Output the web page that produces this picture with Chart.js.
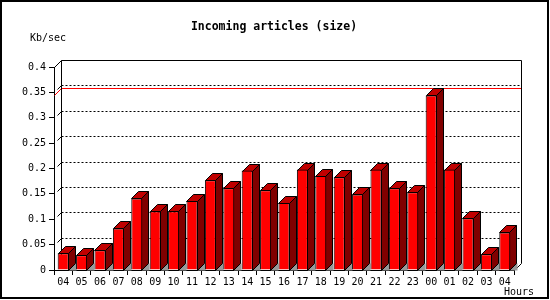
<!DOCTYPE html>
<html>
<head>
<meta charset="utf-8">
<script src="https://cdn.jsdelivr.net/npm/chart.js@4/dist/chart.umd.min.js"></script>
<style>
html,body{margin:0;padding:0;background:#fff;}
#c{display:block;}
</style>
</head>
<body>
<canvas id="c" width="550" height="300"></canvas>
<script>
const titleText = 'Incoming articles (size)';
const yAxisTitle = 'Kb/sec';
const xAxisTitle = 'Hours';
const hours = ['04','05','06','07','08','09','10','11','12','13','14','15','16','17','18','19','20','21','22','23','00','01','02','03','04'];
const sizeKbSec = [0.033,0.029,0.039,0.082,0.141,0.116,0.116,0.136,0.177,0.161,0.196,0.157,0.132,0.198,0.185,0.183,0.149,0.198,0.161,0.153,0.344,0.198,0.102,0.031,0.074];
const yTickLabels = ['0','0.05','0.1','0.15','0.2','0.25','0.3','0.35','0.4'];
const yGridValues = [0.05,0.1,0.15,0.2,0.25,0.3,0.35];

const DEPTH = 7;
const MONO = '"DejaVu Sans Mono", "Liberation Mono", monospace';

const threeD = {
  id: 'threeD',
  beforeDatasetsDraw(chart) {
    const ctx = chart.ctx;
    const a = chart.chartArea;
    const ys = chart.scales.y;
    const d = DEPTH;
    const L = Math.round(a.left) + 0.5, R = Math.round(a.right) + 0.5;
    const T = Math.round(a.top) + 0.5, B = Math.round(a.bottom) + 0.5;
    ctx.save();
    ctx.lineWidth = 1;
    // dotted gridlines on back wall
    ctx.strokeStyle = '#000';
    yGridValues.forEach(v => {
      const y = Math.round(ys.getPixelForValue(v)) - d + 0.5;
      ctx.setLineDash([2,2]);
      ctx.beginPath(); ctx.moveTo(L + d, y); ctx.lineTo(R + d, y); ctx.stroke();
      ctx.setLineDash([]);
      ctx.beginPath(); ctx.moveTo(L + 3, y + d - 3); ctx.lineTo(L + d, y); ctx.stroke();
    });
    // max line
    const mx = Math.max(...sizeKbSec);
    const ym = Math.round(ys.getPixelForValue(mx)) + 0.5;
    ctx.strokeStyle = '#ff0000';
    ctx.beginPath(); ctx.moveTo(L, ym); ctx.lineTo(L + d, ym - d); ctx.lineTo(R + d, ym - d); ctx.stroke();
    // back wall frame
    ctx.strokeStyle = '#000';
    ctx.beginPath();
    ctx.moveTo(L, T); ctx.lineTo(L + d, T - d); ctx.lineTo(R + d, T - d); ctx.lineTo(R + d, B - d); ctx.lineTo(R, B);
    ctx.moveTo(L + d, T - d); ctx.lineTo(L + d, B - d);
    ctx.stroke();
    // bar sides and tops
    const meta = chart.getDatasetMeta(0);
    meta.data.forEach(bar => {
      const w = bar.width;
      const xl = Math.round(bar.x - w / 2) + 0.5;
      const xr = Math.round(bar.x + w / 2) - 0.5;
      const yt = Math.round(bar.y) + 0.5;
      const yb = Math.round(bar.base) + 0.5;
      // floor shadow
      ctx.fillStyle = '#999999';
      ctx.beginPath(); ctx.moveTo(xr, yb); ctx.lineTo(xr + d, yb - d); ctx.lineTo(xr + d + 1, yb - d); ctx.lineTo(xr + d + 1, yb); ctx.closePath(); ctx.fill();
      // side
      ctx.fillStyle = '#800000';
      ctx.strokeStyle = '#000';
      ctx.beginPath(); ctx.moveTo(xr, yt); ctx.lineTo(xr + d, yt - d); ctx.lineTo(xr + d, yb - d); ctx.lineTo(xr, yb); ctx.closePath(); ctx.fill(); ctx.stroke();
      // top
      ctx.fillStyle = '#c00000';
      ctx.beginPath(); ctx.moveTo(xl, yt); ctx.lineTo(xl + d, yt - d); ctx.lineTo(xr + d, yt - d); ctx.lineTo(xr, yt); ctx.closePath(); ctx.fill(); ctx.stroke();
    });
    ctx.restore();
  },
  afterDraw(chart) {
    const ctx = chart.ctx;
    ctx.save();
    ctx.fillStyle = '#000';
    ctx.textBaseline = 'middle';
    ctx.textAlign = 'center';
    ctx.font = 'bold 11.5px ' + MONO;
    ctx.fillText(titleText, 274, 27);
    ctx.font = '10px ' + MONO;
    ctx.textAlign = 'left';
    ctx.fillText(yAxisTitle, 30, 38);
    ctx.fillText(xAxisTitle, 504, 292);
    ctx.strokeStyle = '#000';
    ctx.lineWidth = 2;
    ctx.strokeRect(1, 1, 547, 297);
    ctx.restore();
  }
};

new Chart(document.getElementById('c'), {
  type: 'bar',
  data: {
    labels: hours,
    datasets: [{
      data: sizeKbSec,
      backgroundColor: '#ff0000',
      borderColor: '#000000',
      borderWidth: 1,
      categoryPercentage: 1.0,
      barPercentage: 0.6
    }]
  },
  options: {
    responsive: false,
    devicePixelRatio: 1,
    animation: false,
    layout: { padding: { top: 67, right: 36, left: 0, bottom: 0 } },
    plugins: { legend: { display: false }, title: { display: false }, tooltip: { enabled: false } },
    scales: {
      x: {
        grid: { display: true, drawOnChartArea: false, drawTicks: true, tickLength: 5, color: '#000', offset: true },
        border: { display: true, color: '#000' },
        ticks: { color: '#000', font: { family: MONO, size: 10 }, padding: 1, maxRotation: 0, autoSkip: false },
        afterFit(s) { s.height = 30; }
      },
      y: {
        min: 0, max: 0.4,
        grid: { display: true, drawOnChartArea: false, drawTicks: true, tickLength: 5, color: '#000' },
        border: { display: true, color: '#000' },
        ticks: { stepSize: 0.05, color: '#000', font: { family: MONO, size: 10 }, padding: 3,
          callback: (v, i) => yTickLabels[i] },
        afterFit(s) { s.width = 54; }
      }
    }
  },
  plugins: [threeD]
});
</script>
</body>
</html>
